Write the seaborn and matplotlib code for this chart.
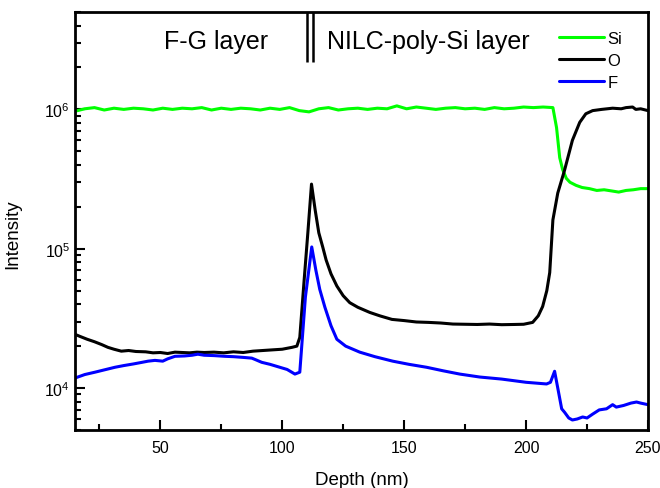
import numpy as np
import pandas as pd
import matplotlib
matplotlib.use('Agg')
import matplotlib.pyplot as plt
import seaborn as sns

# Depth profile data
si_depth = [15, 19, 23, 27, 31, 35, 39, 43, 47, 51, 55, 59, 63, 67, 71, 75, 79, 83, 87, 91,
            95, 99, 103, 107, 111, 115, 119, 123, 127, 131, 135, 139, 143, 147, 151, 155,
            159, 163, 167, 171, 175, 179, 183, 187, 191, 195, 199, 203, 207, 211,
            212.5, 213.8, 215, 216.5, 218, 220.5, 223, 226, 229, 232, 235, 238, 241, 244, 247, 250]
si_int = [0.97, 1.01, 1.03, 0.99, 1.02, 1.00, 1.02, 1.01, 0.99, 1.02, 1.00, 1.02, 1.01, 1.03,
          0.99, 1.02, 1.00, 1.02, 1.01, 0.99, 1.02, 1.00, 1.03, 0.98, 0.96, 1.01, 1.03, 0.99,
          1.01, 1.02, 1.00, 1.02, 1.01, 1.06, 1.01, 1.04, 1.02, 1.00, 1.02, 1.03, 1.01, 1.02,
          1.00, 1.03, 1.01, 1.02, 1.04, 1.03, 1.04, 1.03,
          0.74, 0.45, 0.37, 0.32, 0.30, 0.285, 0.275, 0.27, 0.262, 0.265, 0.26, 0.255, 0.262,
          0.265, 0.27, 0.27]
si_int = [v * 1e6 for v in si_int]

o_depth = [15, 17, 20, 23, 26, 28.5, 31, 34, 37, 40, 44, 47, 50, 53, 56, 59, 62, 65, 68, 72,
           76, 80, 84, 88, 92, 96, 100, 104, 106, 107.2, 109, 110.5, 112, 113.5, 115, 116.6,
           118, 120, 122.4, 125, 127.7, 131, 135.9, 140, 145, 150, 155, 160, 165, 170, 175,
           180, 185, 190, 195, 199, 202.7, 205, 206.8, 208.5, 209.7, 211, 213, 215.8, 219,
           222, 224.5, 227.3, 231, 235.5, 239, 241, 243.7, 245, 247, 250]
o_int = [2.43e4, 2.35e4, 2.24e4, 2.15e4, 2.05e4, 1.96e4, 1.90e4, 1.84e4, 1.86e4, 1.83e4,
         1.82e4, 1.79e4, 1.80e4, 1.77e4, 1.81e4, 1.80e4, 1.79e4, 1.81e4, 1.80e4, 1.81e4,
         1.79e4, 1.82e4, 1.80e4, 1.84e4, 1.86e4, 1.88e4, 1.90e4, 1.96e4, 2.0e4, 2.31e4,
         6.0e4, 1.3e5, 2.91e5, 1.9e5, 1.3e5, 1.03e5, 8.3e4, 6.6e4, 5.4e4, 4.6e4, 4.1e4,
         3.8e4, 3.49e4, 3.3e4, 3.11e4, 3.05e4, 2.98e4, 2.96e4, 2.93e4, 2.88e4, 2.87e4,
         2.86e4, 2.88e4, 2.85e4, 2.86e4, 2.87e4, 2.96e4, 3.3e4, 3.85e4, 5.0e4, 6.74e4,
         1.61e5, 2.51e5, 3.67e5, 6.0e5, 8.07e5, 9.3e5, 9.8e5, 1.0e6, 1.02e6, 1.01e6,
         1.03e6, 1.04e6, 1.0e6, 1.01e6, 0.98e6]

f_depth = [15, 19, 23.2, 27, 31.4, 35, 39, 42.5, 45, 47.8, 51, 53, 56, 60, 63, 65.4, 68, 72,
           76.5, 80, 84, 87.5, 89, 91.6, 95, 99, 102, 105.2, 107.2, 109.5, 112.1, 113.8,
           115.4, 117.5, 120, 122.4, 126, 131.8, 138, 145.3, 152, 159.2, 166, 172.8, 181,
           190, 200, 208.4, 210, 211.7, 213, 214.6, 215.8, 217.5, 219, 221, 223.2, 225,
           227.3, 230, 233, 235.5, 237, 240, 243, 245.3, 247, 250]
f_int = [1.18e4, 1.25e4, 1.30e4, 1.35e4, 1.41e4, 1.45e4, 1.49e4, 1.53e4, 1.56e4, 1.58e4,
         1.56e4, 1.62e4, 1.69e4, 1.70e4, 1.72e4, 1.75e4, 1.72e4, 1.71e4, 1.69e4, 1.68e4,
         1.66e4, 1.64e4, 1.60e4, 1.53e4, 1.48e4, 1.41e4, 1.36e4, 1.26e4, 1.30e4, 4.5e4,
         1.03e5, 7.0e4, 5.1e4, 3.8e4, 2.8e4, 2.24e4, 2.0e4, 1.81e4, 1.68e4, 1.56e4, 1.48e4,
         1.41e4, 1.33e4, 1.26e4, 1.20e4, 1.16e4, 1.10e4, 1.07e4, 1.10e4, 1.32e4, 1.0e4,
         7.1e3, 6.7e3, 6.1e3, 5.9e3, 6.0e3, 6.2e3, 6.1e3, 6.5e3, 6.97e3, 7.1e3, 7.6e3,
         7.3e3, 7.5e3, 7.8e3, 7.94e3, 7.8e3, 7.6e3]

elements = ['Si', 'O', 'F']
colors = ['#00ff00', '#000000', '#0000ff']
boundary = [110.0, 112.7]

df = pd.concat([
    pd.DataFrame({'Depth': si_depth, 'Intensity': si_int, 'Element': 'Si'}),
    pd.DataFrame({'Depth': o_depth, 'Intensity': o_int, 'Element': 'O'}),
    pd.DataFrame({'Depth': f_depth, 'Intensity': f_int, 'Element': 'F'}),
], ignore_index=True)

sns.set_style('ticks')
plt.rcParams['font.family'] = ['Liberation Sans', 'DejaVu Sans']
plt.rcParams['mathtext.fontset'] = 'custom'
plt.rcParams['mathtext.rm'] = 'Liberation Sans'
plt.rcParams['text.color'] = 'black'
plt.rcParams['axes.labelcolor'] = 'black'

fig = plt.figure(figsize=(6.6, 4.89), dpi=100)
ax = fig.add_axes([0.1136, 0.1186, 0.8682, 0.8548])

sns.lineplot(data=df, x='Depth', y='Intensity', hue='Element', hue_order=elements,
             palette=colors, estimator=None, sort=False, linewidth=2.2, ax=ax)

ax.set_yscale('log')
ax.set_xlim(15, 250)
ax.set_ylim(5e3, 5e6)
ax.set_xticks([50, 100, 150, 200, 250])
ax.set_xticks([25, 75, 125, 175, 225], minor=True)
ax.tick_params(which='both', direction='in', top=False, right=False, width=1.5,
               labelsize=11.5, colors='black')
ax.tick_params(which='major', length=7)
ax.tick_params(which='minor', length=4.3)
ax.tick_params(axis='x', pad=7)
for s in ax.spines.values():
    s.set_linewidth(2)
    s.set_color('black')

ax.set_xlabel('Depth (nm)', fontsize=13.5, labelpad=12)
ax.set_ylabel('Intensity', fontsize=13.5)
ax.yaxis.set_label_coords(-0.094, 0.47)

# layer boundary marker and layer names
ax.vlines(boundary, 2.2e6, 5e6, colors='black', linewidth=1.8)
ax.text(0.246, 0.931, 'F-G layer', transform=ax.transAxes, fontsize=18,
        ha='center', va='center')
ax.text(0.44, 0.931, 'NILC-poly-Si layer', transform=ax.transAxes, fontsize=18,
        ha='left', va='center')

handles, labels = ax.get_legend_handles_labels()
ax.legend(handles, labels, loc='upper right', bbox_to_anchor=(0.955, 0.954),
          frameon=False, fontsize=12, handlelength=2.7, handletextpad=0.2,
          labelspacing=0.4, borderpad=0, borderaxespad=0)

fig.savefig('out.png', dpi=100)
